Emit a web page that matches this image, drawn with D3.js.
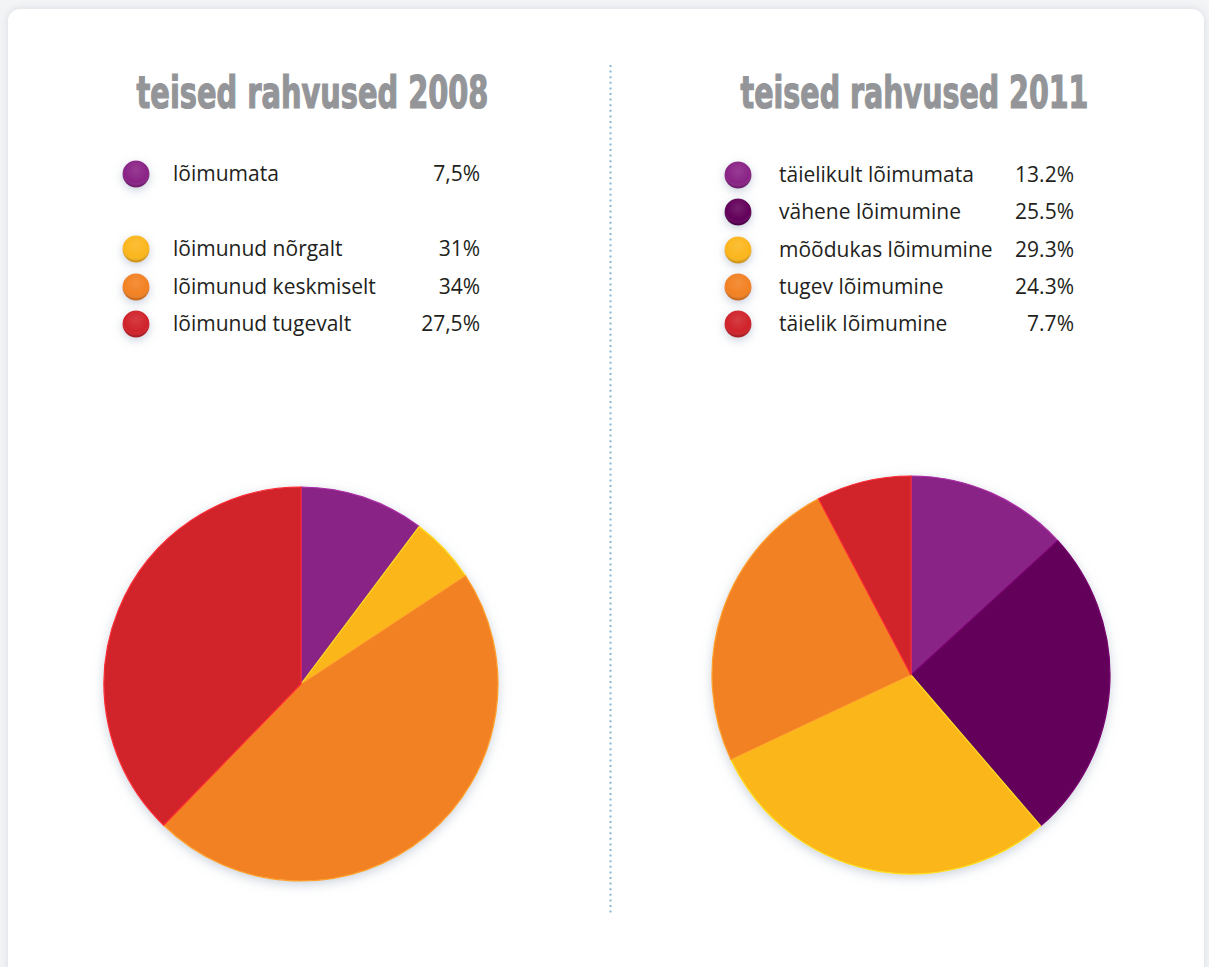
<!DOCTYPE html>
<html>
<head>
<meta charset="utf-8">
<script src="https://cdn.jsdelivr.net/npm/d3@7"></script>
<style>
  body { margin: 0; background: #f3f4f6; }
  svg { display: block; }
</style>
</head>
<body>
<div id="chart"></div>
<script>
// 2008 legend
var labels2008 = ['lõimumata', 'lõimunud nõrgalt', 'lõimunud keskmiselt', 'lõimunud tugevalt']
var legendValues2008 = ['7,5%', '31%', '34%', '27,5%']
// slice shares as drawn in the 2008 pie (read off the picture, not the legend)
var pie2008 = [10.25, 5.47, 46.56, 37.72]
var colors2008 = ['#8a2386', '#fbb61a', '#f28123', '#d0232a']

// 2011
var labels2011 = ['täielikult lõimumata', 'vähene lõimumine', 'mõõdukas lõimumine', 'tugev lõimumine', 'täielik lõimumine']
var values2011 = [13.2, 25.5, 29.3, 24.3, 7.7]
var colors2011 = ['#8a2386', '#62005a', '#fbb61a', '#f28123', '#d0232a']

var width = 1209
var height = 967

var svg = d3.select('#chart')
  .append('svg')
  .attr('width', width)
  .attr('height', height)

var defs = svg.append('defs')

// soft shadows
var cardShadow = defs.append('filter').attr('id', 'card-shadow')
  .attr('x', '-5%').attr('y', '-5%').attr('width', '110%').attr('height', '110%')
cardShadow.append('feDropShadow')
  .attr('dx', 0).attr('dy', 0).attr('stdDeviation', 4)
  .attr('flood-color', '#c9cfd8').attr('flood-opacity', 0.7)

var pieShadow = defs.append('filter').attr('id', 'pie-shadow')
  .attr('x', '-20%').attr('y', '-20%').attr('width', '140%').attr('height', '140%')
pieShadow.append('feDropShadow')
  .attr('dx', 0).attr('dy', 3).attr('stdDeviation', 6)
  .attr('flood-color', '#9aa8bb').attr('flood-opacity', 0.55)

var dotShadow = defs.append('filter').attr('id', 'dot-shadow')
  .attr('x', '-100%').attr('y', '-100%').attr('width', '300%').attr('height', '300%')
dotShadow.append('feDropShadow')
  .attr('dx', 0).attr('dy', 3).attr('stdDeviation', 5)
  .attr('flood-color', '#a4b2c4').attr('flood-opacity', 0.6)

// glossy shading over the legend dots
var gloss = defs.append('radialGradient').attr('id', 'gloss')
  .attr('cx', '50%').attr('cy', '35%').attr('r', '60%')
gloss.append('stop').attr('offset', '0%').attr('stop-color', '#fff').attr('stop-opacity', 0.12)
gloss.append('stop').attr('offset', '75%').attr('stop-color', '#fff').attr('stop-opacity', 0)
gloss.append('stop').attr('offset', '100%').attr('stop-color', '#000').attr('stop-opacity', 0.18)

// card
svg.append('rect')
  .attr('x', 8).attr('y', 9)
  .attr('width', 1196).attr('height', 975)
  .attr('rx', 12)
  .attr('fill', '#fff')
  .attr('filter', 'url(#card-shadow)')

// dotted divider
svg.append('line')
  .attr('x1', 610.5).attr('x2', 610.5)
  .attr('y1', 65).attr('y2', 914)
  .attr('stroke', '#86b5d0')
  .attr('stroke-width', 2)
  .attr('stroke-dasharray', '2,3.6')

function drawPanel(opts) {
  var g = svg.append('g')

  // title: condensed bold, squeezed horizontally to the reference width
  var title = g.append('text')
    .attr('x', 0)
    .attr('y', 0)
    .attr('text-anchor', 'middle')
    .attr('font-family', "'DejaVu Sans Condensed', 'Liberation Sans Narrow', sans-serif")
    .attr('font-weight', 'bold')
    .attr('font-size', 44)
    .attr('fill', '#939598')
    .attr('stroke', '#939598')
    .attr('stroke-width', 1.2)
    .text(opts.title)
  var natural = title.node().getComputedTextLength()
  title.attr('transform', `translate(${opts.titleX},108) scale(${opts.titleWidth / natural},1)`)

  var rows = g.selectAll('.legend-row')
    .data(opts.labels)
    .enter()
    .append('g')
    .attr('class', 'legend-row')
    .attr('transform', (d, i) => `translate(0, ${opts.rowY[i]})`)

  rows.append('circle')
    .attr('cx', opts.dotX)
    .attr('r', 13.5)
    .attr('fill', (d, i) => opts.colors[i])
    .attr('filter', 'url(#dot-shadow)')

  rows.append('circle')
    .attr('cx', opts.dotX)
    .attr('r', 13.5)
    .attr('fill', 'url(#gloss)')

  rows.append('text')
    .attr('x', opts.labelX)
    .attr('dy', '0.35em')
    .attr('font-family', "'Open Sans', sans-serif")
    .attr('font-size', 21)
    .attr('fill', '#231f20')
    .text(d => d)

  rows.append('text')
    .attr('x', opts.valueX)
    .attr('dy', '0.35em')
    .attr('text-anchor', 'end')
    .attr('font-family', "'Open Sans', sans-serif")
    .attr('font-size', 21)
    .attr('fill', '#231f20')
    .text((d, i) => opts.valueText[i])

  var pie = d3.pie().sort(null).value(d => d)
  var arc = d3.arc().innerRadius(0).outerRadius(opts.radius)

  var pg = g.append('g')
    .attr('transform', `translate(${opts.cx},${opts.cy})`)

  pg.append('circle')
    .attr('r', opts.radius)
    .attr('fill', '#fff')
    .attr('filter', 'url(#pie-shadow)')

  pg.selectAll('.slice')
    .data(pie(opts.pieValues))
    .enter()
    .append('path')
    .attr('class', 'slice')
    .attr('d', arc)
    .attr('fill', (d, i) => opts.colors[i])
    .attr('stroke', (d, i) => d3.color(opts.colors[i]).brighter(0.6))
    .attr('stroke-width', 1.2)
    .attr('stroke-linejoin', 'round')
}

drawPanel({
  title: 'teised rahvused 2008',
  titleX: 312.5,
  titleWidth: 352,
  labels: labels2008,
  valueText: legendValues2008,
  pieValues: pie2008,
  colors: colors2008,
  rowY: [174, 249, 287, 324],
  dotX: 136,
  labelX: 173,
  valueX: 480,
  cx: 301,
  cy: 684,
  radius: 197
})

drawPanel({
  title: 'teised rahvused 2011',
  titleX: 914.5,
  titleWidth: 348,
  labels: labels2011,
  valueText: values2011.map(d => d.toFixed(1) + '%'),
  pieValues: values2011,
  colors: colors2011,
  rowY: [175, 212, 250, 287, 324],
  dotX: 738,
  labelX: 779,
  valueX: 1074,
  cx: 911,
  cy: 675,
  radius: 199
})
</script>
</body>
</html>
